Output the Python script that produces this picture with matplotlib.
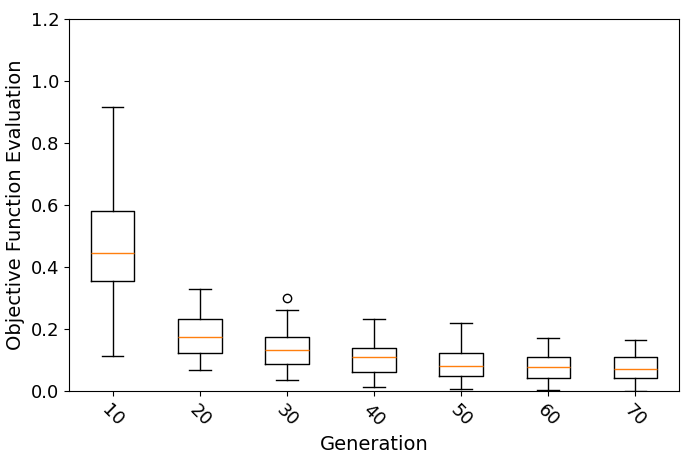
import matplotlib
matplotlib.use("Agg")
import matplotlib.pyplot as plt

generations = ["10", "20", "30", "40", "50", "60", "70"]
whislo = [0.114, 0.068, 0.035, 0.012, 0.005, 0.003, 0.001]
q1 = [0.354, 0.122, 0.087, 0.060, 0.047, 0.043, 0.043]
med = [0.446, 0.175, 0.132, 0.111, 0.081, 0.076, 0.072]
q3 = [0.581, 0.233, 0.173, 0.138, 0.122, 0.111, 0.110]
whishi = [0.917, 0.329, 0.261, 0.232, 0.218, 0.170, 0.165]
fliers = [[], [], [0.301], [], [], [], []]

stats = []
for i, g in enumerate(generations):
    stats.append(dict(label=g, whislo=whislo[i], q1=q1[i], med=med[i],
                      q3=q3[i], whishi=whishi[i], fliers=fliers[i]))

fig = plt.figure(figsize=(6.85, 4.61), dpi=100)
ax = fig.add_axes([69/685, 1-391/461, (679-69)/685, (391-19)/461])
ax.bxp(stats, positions=range(1, len(generations)+1), widths=0.5)
ax.set_ylim(0, 1.2)
ax.set_yticks([0.0, 0.2, 0.4, 0.6, 0.8, 1.0, 1.2])
ax.tick_params(axis='both', labelsize=13)
plt.setp(ax.get_xticklabels(), rotation=-45, ha='center')
ax.set_xlabel("Generation", fontsize=14)
ax.set_ylabel("Objective Function Evaluation", fontsize=14)
fig.savefig("out.png", dpi=100)
